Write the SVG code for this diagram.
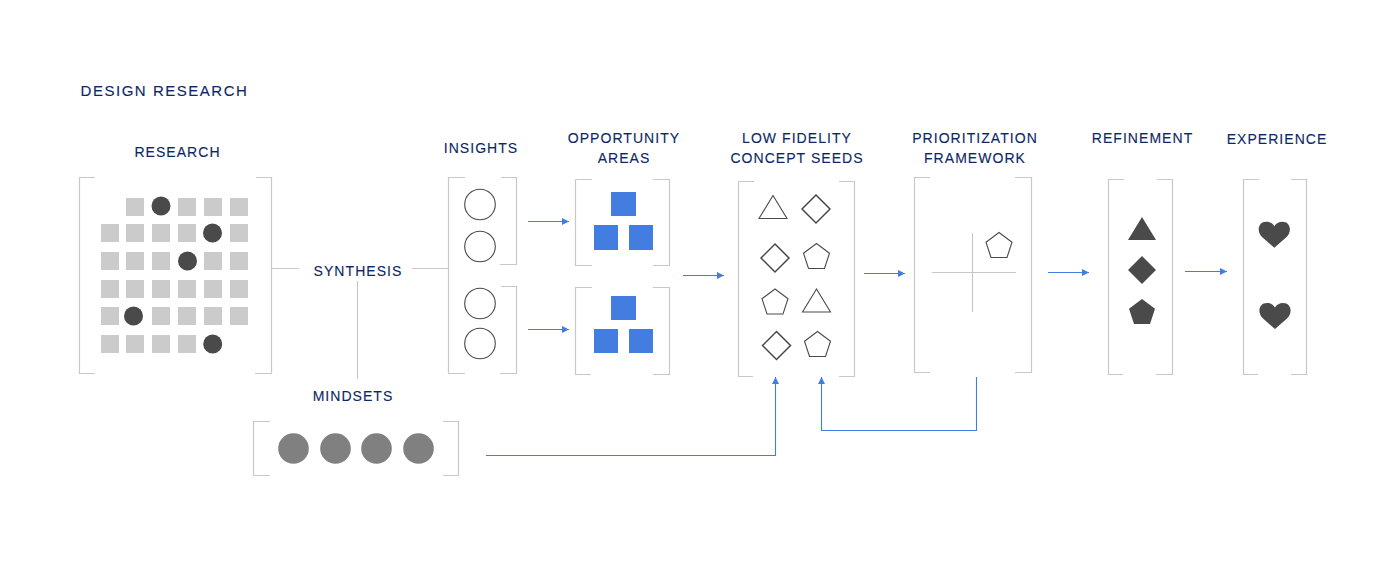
<svg xmlns="http://www.w3.org/2000/svg" width="1398" height="564" viewBox="0 0 1398 564">
<style>
.t{font-family:"Liberation Sans",Arial,sans-serif;font-size:14px;letter-spacing:1.05px;fill:#0c2766;text-anchor:middle;stroke:#0c2766;stroke-width:.12}
.b{fill:none;stroke:#c8c8c8;stroke-width:1.2}
.g{fill:#cbcbcb}
.d{fill:#4a4a4a}
.o{fill:#fff;stroke:#4a4a4a;stroke-width:1.1}
.k{fill:#fff;stroke:#4a4a4a;stroke-width:1.5}
.m{fill:#808080}
.s{fill:#447de0}
.c{fill:none;stroke:#447de0;stroke-width:1.1}
.l{fill:none;stroke:#c8c8c8;stroke-width:1.1}
</style>
<defs>
<marker id="a" markerUnits="userSpaceOnUse" markerWidth="8" markerHeight="8" refX="7" refY="3.5" orient="auto"><path d="M0 0L7 3.5L0 7Z" fill="#447de0"/></marker>
<rect id="sq" width="18" height="18" class="g"/>
<path id="tri" d="M0 -12L14 11H-14Z"/>
<path id="dia" d="M0 -14L14 0L0 14L-14 0Z"/>
<path id="pen" d="M0 -13.500L13 -3.800L8 11.500H-8L-13 -3.800Z"/>
<path id="hrt" d="M0 13L-12 2.500C-18 -3 -16.500 -13 -8 -13C-4.500 -13 -1.800 -11.500 0 -8.500C1.800 -11.500 4.500 -13 8 -13C16.500 -13 18 -3 12 2.500Z"/>
</defs>
<g id="title"><text class="t" x="164.500" y="96" style="font-size:15px;letter-spacing:1.52px">DESIGN RESEARCH</text></g>
<g id="research">
<text class="t" x="177.500" y="157">RESEARCH</text>
<path class="b" d="M95 177.500H79.500V373.500H95M256 177.500H271.500V373.500H255"/>
<g>
<use href="#sq" x="126" y="198"/><use href="#sq" x="178" y="198"/><use href="#sq" x="204" y="198"/><use href="#sq" x="230" y="198"/>
<use href="#sq" x="101" y="224"/><use href="#sq" x="126" y="224"/><use href="#sq" x="152" y="224"/><use href="#sq" x="178" y="224"/><use href="#sq" x="230" y="224"/>
<use href="#sq" x="101" y="252"/><use href="#sq" x="126" y="252"/><use href="#sq" x="152" y="252"/><use href="#sq" x="204" y="252"/><use href="#sq" x="230" y="252"/>
<use href="#sq" x="101" y="280"/><use href="#sq" x="126" y="280"/><use href="#sq" x="152" y="280"/><use href="#sq" x="178" y="280"/><use href="#sq" x="204" y="280"/><use href="#sq" x="230" y="280"/>
<use href="#sq" x="101" y="307"/><use href="#sq" x="152" y="307"/><use href="#sq" x="178" y="307"/><use href="#sq" x="204" y="307"/><use href="#sq" x="230" y="307"/>
<use href="#sq" x="101" y="335"/><use href="#sq" x="126" y="335"/><use href="#sq" x="152" y="335"/><use href="#sq" x="178" y="335"/>
</g>
<circle class="d" cx="161" cy="206" r="9.500"/><circle class="d" cx="212.500" cy="233" r="9.500"/><circle class="d" cx="187.500" cy="261" r="9.500"/><circle class="d" cx="133.500" cy="316" r="9.500"/><circle class="d" cx="212.700" cy="344" r="9.500"/>
</g>
<g id="synthesis"><text class="t" x="358" y="276">SYNTHESIS</text></g>
<g id="mindsets">
<text class="t" x="353" y="401">MINDSETS</text>
<path class="b" d="M270 421.500H253.500V475.500H270M443 421.500H458.500V475.500H443"/>
<circle class="m" cx="293.500" cy="448.500" r="15.300"/><circle class="m" cx="335.500" cy="448.500" r="15.300"/><circle class="m" cx="376.500" cy="448.500" r="15.300"/><circle class="m" cx="418.500" cy="448.500" r="15.300"/>
</g>
<g id="insights">
<text class="t" x="481" y="153">INSIGHTS</text>
<path class="b" d="M465 177.500H448.500V373.500H465M501 177.500H516.500V264.500H500M501 286.500H516.500V373.500H500"/>
<circle class="o" cx="480" cy="204.500" r="15.300"/><circle class="o" cx="480" cy="246.500" r="15.300"/><circle class="o" cx="480" cy="303.500" r="15.300"/><circle class="o" cx="480" cy="343.500" r="15.300"/>
</g>
<g id="opportunity">
<text class="t" x="624" y="143">OPPORTUNITY</text><text class="t" x="624" y="163">AREAS</text>
<path class="b" d="M592 179.500H575.500V265.500H592M653 179.500H669.500V265.500H653M592 287.500H575.500V374.500H591M653 287.500H669.500V374.500H653"/>
<rect class="s" x="611" y="192" width="25" height="24"/><rect class="s" x="594" y="225" width="24" height="25"/><rect class="s" x="629" y="225" width="24" height="25"/>
<rect class="s" x="611" y="296" width="25" height="24"/><rect class="s" x="594" y="329" width="24" height="24"/><rect class="s" x="629" y="329" width="24" height="24"/>
</g>
<g id="concept-seeds">
<text class="t" x="797" y="143">LOW FIDELITY</text><text class="t" x="797" y="163">CONCEPT SEEDS</text>
<path class="b" d="M754 181.500H738.500V376.500H753M839 181.500H854.500V376.500H839"/>
<use href="#tri" class="o" x="773" y="207.500"/><use href="#dia" class="k" x="816" y="209"/>
<use href="#dia" class="k" x="775" y="258"/><use href="#pen" class="o" x="816.500" y="257"/>
<use href="#pen" class="o" x="775" y="302.500"/><use href="#tri" class="o" x="816.500" y="301"/>
<use href="#dia" class="k" x="776.500" y="345.500"/><use href="#pen" class="o" x="817.500" y="345"/>
</g>
<g id="prioritization">
<text class="t" x="975" y="143">PRIORITIZATION</text><text class="t" x="975" y="163">FRAMEWORK</text>
<path class="b" d="M930 177.500H914.500V372.500H930M1015 177.500H1031.500V372.500H1015"/>
<path class="l" d="M932 272.500H1016M972.500 233V312"/>
<use href="#pen" class="o" x="999" y="246"/>
</g>
<g id="refinement">
<text class="t" x="1142.500" y="143">REFINEMENT</text>
<path class="b" d="M1124 179.500H1108.500V374.500H1123M1157 179.500H1172.500V374.500H1156"/>
<use href="#tri" class="d" x="1142" y="229"/><use href="#dia" class="d" x="1142" y="270"/><use href="#pen" class="d" x="1142" y="312.500"/>
</g>
<g id="experience">
<text class="t" x="1277" y="144">EXPERIENCE</text>
<path class="b" d="M1259 179.500H1243.500V374.500H1258M1291 179.500H1306.500V374.500H1291"/>
<use href="#hrt" class="d" x="1274.300" y="234.700"/><use href="#hrt" class="d" x="1275" y="316"/>
</g>
<g id="connectors">
<path class="l" d="M272 268.500H299M412 268.500H449M357.500 281V379"/>
<path class="c" marker-end="url(#a)" d="M528 221.500H569"/>
<path class="c" marker-end="url(#a)" d="M528 329.500H569"/>
<path class="c" marker-end="url(#a)" d="M683 275.500H724"/>
<path class="c" marker-end="url(#a)" d="M864 273.500H905"/>
<path class="c" marker-end="url(#a)" d="M1048 272.500H1089"/>
<path class="c" marker-end="url(#a)" d="M1185 271.500H1227"/>
<path class="c" marker-end="url(#a)" d="M486 455.500H775.500V377"/>
<path class="c" marker-end="url(#a)" d="M976.500 377V430.500H821.500V377"/>
</g>
</svg>
